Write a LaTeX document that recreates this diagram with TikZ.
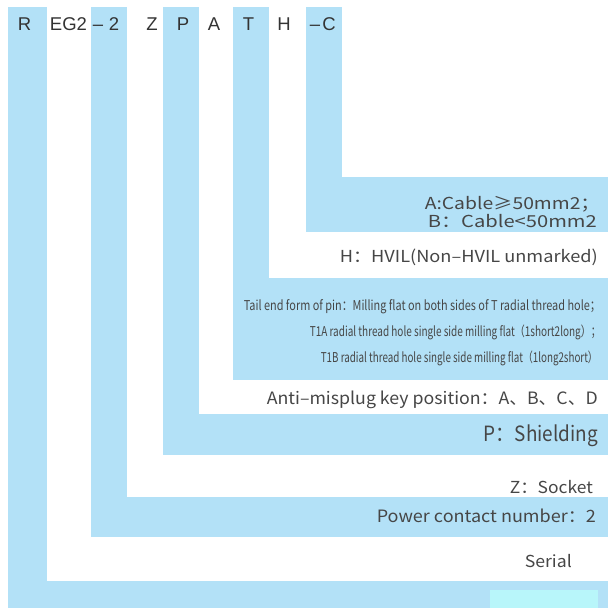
\documentclass[tikz,border=0pt]{standalone}
\usepackage{fontspec}
\setmainfont{Liberation Sans}
\newfontfamily\cjk{Noto Sans CJK SC}
\usepackage{graphicx}
\definecolor{band}{HTML}{B3E1F7}
\definecolor{cyanbox}{HTML}{B8F6FA}
\definecolor{topink}{HTML}{333333}
\definecolor{labink}{HTML}{464646}
\newcommand{\fitw}[2]{\resizebox{#1}{\height}{#2}}
\tikzset{
  code/.style={inner sep=0pt, anchor=base, text=topink, font=\fontsize{18.5}{22}\selectfont},
  lab/.style={inner sep=0pt, anchor=base east, text=labink},
}
\begin{document}
\begin{tikzpicture}[x=1pt,y=-1pt]
\useasboundingbox (0,0) rectangle (611,608);
\fill[white] (0,0) rectangle (611,608);
% nested bands
\fill[band]  (8,7)   rectangle (608,608);
\fill[white] (47,7)  rectangle (608,581);
\fill[band]  (91,7)  rectangle (608,537);
\fill[white] (127,7) rectangle (608,497);
\fill[band]  (163,7) rectangle (608,455);
\fill[white] (199,7) rectangle (608,414);
\fill[band]  (233,7) rectangle (608,380);
\fill[white] (269,7) rectangle (608,278);
\fill[band]  (306,7) rectangle (608,232);
\fill[white] (342,7) rectangle (608,177);
\fill[cyanbox] (490,590) rectangle (598,608);
% code letters
\node[code] (cR)  at (24.5,30) {R};
\node[code] (cE)  at (68.5,30) {EG2};
\node[code] (cd1) at (98,30) {–};
\node[code] (c2)  at (114,30) {2};
\node[code] (cZ)  at (152,30) {Z};
\node[code] (cP)  at (183,30) {P};
\node[code] (cA)  at (214,30) {A};
\node[code] (cT)  at (248.5,30) {T};
\node[code] (cH)  at (284,30) {H};
\node[code] (cd2) at (315,30) {–};
\node[code] (cC)  at (329,30) {C};
% labels
\node[lab, font=\cjk\fontsize{16.5}{19}\selectfont] (l1) at (600,209) {\fitw{175pt}{A:Cable≥50mm2；}};
\node[lab, font=\cjk\fontsize{16.5}{19}\selectfont] (l2) at (597,227) {\fitw{169pt}{B：Cable<50mm2}};
\node[lab, font=\cjk\fontsize{16.5}{19}\selectfont] (l3) at (598,262) {\fitw{258pt}{H：HVIL(Non–HVIL unmarked)}};
\node[lab, font=\cjk\fontsize{13.5}{16}\selectfont] (l4) at (601,310) {\fitw{357pt}{Tail end form of pin：Milling flat on both sides of T radial thread hole；}};
\node[lab, font=\cjk\fontsize{13.5}{16}\selectfont] (l5) at (601,336) {\fitw{291pt}{T1A radial thread hole single side milling flat（1short2long）；}};
\node[lab, font=\cjk\fontsize{13.5}{16}\selectfont] (l6) at (598,362) {\fitw{277pt}{T1B radial thread hole single side milling flat（1long2short）}};
\node[lab, font=\cjk\fontsize{17}{20}\selectfont] (l7) at (598,404.5) {\fitw{331pt}{Anti–misplug key position：A、B、C、D}};
\node[lab, font=\cjk\fontsize{21}{25}\selectfont] (l8) at (598,441.5) {\fitw{114pt}{P：Shielding}};
\node[lab, font=\cjk\fontsize{16.5}{19}\selectfont] (l9) at (593,493) {\fitw{83pt}{Z：Socket}};
\node[lab, font=\cjk\fontsize{17}{20}\selectfont] (l10) at (596,522.5) {\fitw{219pt}{Power contact number：2}};
\node[lab, font=\cjk\fontsize{16.5}{19}\selectfont] (l11) at (572,567) {\fitw{47pt}{Serial}};
\end{tikzpicture}
\end{document}
